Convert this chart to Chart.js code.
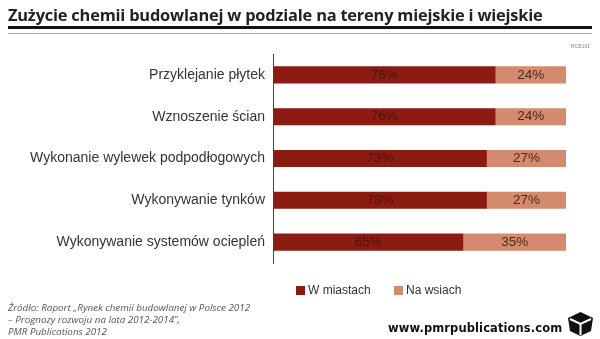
<!DOCTYPE html>
<html>
<head>
<meta charset="utf-8">
<script src="https://cdn.jsdelivr.net/npm/chart.js@4"></script>
<style>
  body { margin: 0; background: #fff; }
  #wrap { position: relative; width: 600px; height: 339px; overflow: hidden; font-family: "Liberation Sans", Arial, sans-serif; }
  #myChart { position: absolute; left: 0; top: 0; }
  .title { position: absolute; left: 8px; top: 3px; font: bold 16.4px "Open Sans", sans-serif; color: #222; white-space: nowrap; letter-spacing: -0.2px; }
  .rule1 { position: absolute; left: 8px; top: 26px; width: 584px; height: 3px; background: #111; }
  .rule2 { position: absolute; left: 8px; top: 33px; width: 584px; height: 1px; background: #aaa; }
  .code { position: absolute; right: 10px; top: 43px; font-size: 5px; color: #888; }
  .legend { position: absolute; top: 283px; font-size: 12px; color: #333; white-space: nowrap; }
  .legend span { display: inline-block; width: 9px; height: 9px; margin-right: 3px; vertical-align: -1px; }
  .src { position: absolute; left: 8px; top: 302px; font: italic 9.8px "Open Sans", sans-serif; color: #555; line-height: 12px; }
  .url { position: absolute; left: 388px; top: 321px; font: bold 11.5px "DejaVu Sans", sans-serif; color: #111; letter-spacing: 0.1px; }
  .logo { position: absolute; left: 567px; top: 311px; }
</style>
</head>
<body>
<div id="wrap">
  <canvas id="myChart" width="600" height="339"></canvas>
  <div class="title">Zużycie chemii budowlanej w podziale na tereny miejskie i wiejskie</div>
  <div class="rule1"></div>
  <div class="rule2"></div>
  <div class="code">RCB101</div>
  <div id="legend"></div>
  <div class="src">Źródło: Raport „Rynek chemii budowlanej w Polsce 2012<br>– Prognozy rozwoju na lata 2012-2014”,<br>PMR Publications 2012</div>
  <div class="url">www.pmrpublications.com</div>
  <svg class="logo" width="27" height="26" viewBox="0 0 27 26">
    <polygon points="13.5,1 26,7 24,20 13.5,25 3,20 1,7" fill="#111"/>
    <polyline points="3,8 13.5,13 24,8" fill="none" stroke="#fff" stroke-width="2"/>
    <line x1="13.5" y1="13" x2="13.5" y2="24" stroke="#fff" stroke-width="2"/>
  </svg>
</div>
<script>
const categories = [
  "Przyklejanie płytek",
  "Wznoszenie ścian",
  "Wykonanie wylewek podpodłogowych",
  "Wykonywanie tynków",
  "Wykonywanie systemów ociepleń",
];
const seriesNames = ["W miastach", "Na wsiach"];
const miasta = [76, 76, 73, 73, 65];
const wsie = [24, 24, 27, 27, 35];

const colors = ["#8c1c11", "#d48a6c"];
const labelColors = ["#4c140d", "#4a2a20"];

// percentage text in the middle of each bar piece
const barLabels = {
  id: "barLabels",
  afterDatasetsDraw(chart) {
    const ctx = chart.ctx;
    ctx.save();
    ctx.font = "13.5px 'Liberation Sans', Arial, sans-serif";
    ctx.textAlign = "center";
    ctx.textBaseline = "middle";
    chart.data.datasets.forEach((ds, i) => {
      chart.getDatasetMeta(i).data.forEach((bar, j) => {
        const x = (bar.x + bar.base) / 2;
        ctx.fillStyle = labelColors[i];
        ctx.fillText(ds.data[j] + "%", x, bar.y);
      });
    });
    ctx.restore();
  },
};

const config = {
  type: "bar",
  data: {
    labels: categories,
    datasets: [
      { label: seriesNames[0], data: miasta, backgroundColor: colors[0] },
      { label: seriesNames[1], data: wsie, backgroundColor: colors[1] },
    ],
  },
  options: {
    indexAxis: "y",
    responsive: false,
    animation: false,
    layout: { padding: { top: 54, bottom: 76, right: 34, left: 0 } },
    datasets: { bar: { categoryPercentage: 0.41, barPercentage: 1 } },
    scales: {
      x: { stacked: true, min: 0, max: 100, display: false },
      y: {
        stacked: true,
        grid: { display: false, drawTicks: false },
        border: { display: true, color: "#444", width: 1 },
        ticks: { padding: 8, color: "#333", font: { size: 14, family: "'Liberation Sans', Arial, sans-serif" } },
        afterFit: (scale) => { scale.width = 273; },
      },
    },
    plugins: { legend: { display: false }, tooltip: { enabled: false } },
  },
  plugins: [barLabels],
};
var myChart = new Chart(document.getElementById("myChart"), config);

// legend built from the datasets
const legendX = [296, 394];
const legend = document.getElementById("legend");
seriesNames.forEach((name, i) => {
  const d = document.createElement("div");
  d.className = "legend";
  d.style.left = legendX[i] + "px";
  d.innerHTML = `<span style="background:${colors[i]}"></span>${name}`;
  legend.appendChild(d);
});
</script>
</body>
</html>
